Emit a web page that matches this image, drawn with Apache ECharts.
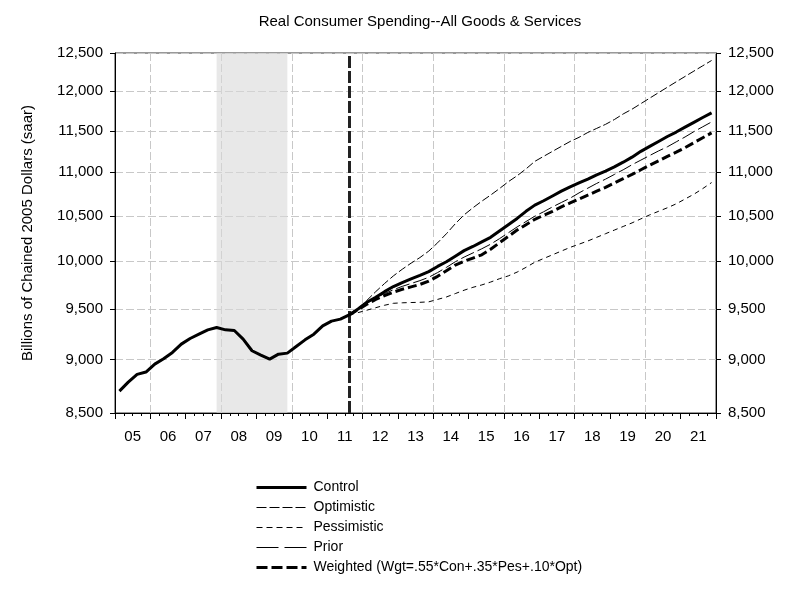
<!DOCTYPE html>
<html>
<head>
<meta charset="utf-8">
<script src="https://cdn.jsdelivr.net/npm/echarts@6/dist/echarts.min.js"></script>
<style>html,body{margin:0;padding:0;background:#fff}#chart{width:790px;height:590px}</style>
</head>
<body>
<div id="chart"></div>
<script>
// ---- data ----
const yearLabels = ['05','06','07','08','09','10','11','12','13','14','15','16','17','18','19','20','21'];
const firstYear = 2005;
const yTicks = [8500, 9000, 9500, 10000, 10500, 11000, 11500, 12000, 12500];
// Actual 2005Q1 .. 2011Q2
const history = [8702, 8786, 8859, 8881, 8957, 9008, 9070, 9151, 9206, 9249, 9292, 9315, 9292, 9285, 9200, 9086, 9044, 9005, 9053, 9063, 9128, 9193, 9249, 9332, 9379, 9399];
// Scenarios 2011Q3 .. 2021Q4
const control = [9442, 9502, 9570, 9622, 9680, 9733, 9775, 9813, 9850, 9890, 9945, 9995, 10055, 10115, 10160, 10210, 10260, 10330, 10400, 10470, 10550, 10620, 10670, 10725, 10780, 10830, 10875, 10920, 10970, 11015, 11065, 11120, 11180, 11250, 11310, 11370, 11430, 11485, 11545, 11605, 11665, 11723];
const optimistic = [9442, 9505, 9590, 9680, 9765, 9845, 9915, 9980, 10040, 10110, 10200, 10300, 10410, 10510, 10590, 10665, 10735, 10810, 10890, 10960, 11040, 11130, 11190, 11250, 11310, 11370, 11420, 11480, 11530, 11580, 11640, 11710, 11770, 11840, 11910, 11980, 12050, 12120, 12190, 12260, 12330, 12400];
const pessimistic = [9442, 9465, 9490, 9515, 9540, 9560, 9565, 9568, 9570, 9575, 9600, 9625, 9660, 9695, 9725, 9750, 9780, 9815, 9845, 9885, 9935, 9990, 10030, 10070, 10110, 10150, 10185, 10220, 10260, 10300, 10340, 10380, 10420, 10465, 10510, 10550, 10590, 10635, 10690, 10745, 10810, 10880];
const prior = [9442, 9500, 9560, 9615, 9660, 9700, 9735, 9765, 9795, 9830, 9880, 9935, 9995, 10045, 10090, 10135, 10185, 10245, 10310, 10375, 10435, 10495, 10545, 10600, 10650, 10700, 10760, 10815, 10870, 10920, 10975, 11030, 11090, 11145, 11200, 11255, 11305, 11365, 11425, 11490, 11550, 11610];
const weighted = [9442, 9495, 9550, 9600, 9640, 9675, 9705, 9730, 9755, 9790, 9840, 9900, 9960, 10000, 10035, 10070, 10130, 10200, 10270, 10340, 10400, 10460, 10505, 10550, 10600, 10645, 10690, 10735, 10780, 10825, 10875, 10925, 10975, 11030, 11085, 11135, 11190, 11240, 11295, 11355, 11415, 11475];
const recession = ['2007Q4', '2009Q4'];
const forecastStart = '2011Q3';
const seriesNames = ['Control', 'Optimistic', 'Pessimistic', 'Prior', 'Weighted (Wgt=.55*Con+.35*Pes+.10*Opt)'];

// ---- build ----
const quarters = [];
yearLabels.forEach((y, k) => { for (let q = 1; q <= 4; q++) quarters.push((firstYear + k) + 'Q' + q); });
const startIdx = quarters.indexOf(forecastStart);
const pad = arr => Array(startIdx).fill(null).concat(arr);

const FONT = "'Liberation Sans', Arial, sans-serif";
const FS = 15;
const gridLine = { show: true, lineStyle: { color: '#c8c8c8', width: 1, type: [8, 3] } };

// styles: [width, chart dash, legend dash]
const styles = {
  'Control': [3, 'solid', 'solid'],
  'Optimistic': [1, [8, 3], [10, 3]],
  'Pessimistic': [1, [5, 4], [6, 4]],
  'Prior': [1, [14, 4], [22, 6]],
  'Weighted (Wgt=.55*Con+.35*Pes+.10*Opt)': [3, [9, 4], [11, 4]]
};

function yAxisCfg(pos, split) {
  const cfg = {
    type: 'log', logBase: 10, min: 8500, max: 12500, position: pos,
    axisLine: { show: true, lineStyle: { color: '#000', width: 1 } },
    axisTick: { show: true, length: 5, customValues: yTicks, lineStyle: { color: '#000' } },
    axisLabel: { customValues: yTicks, margin: 12, color: '#000', fontSize: FS, fontFamily: FONT,
      formatter: v => Math.round(v).toLocaleString('en-US') },
    splitLine: split ? gridLine : { show: false },
    minorTick: { show: false }, minorSplitLine: { show: false }
  };
  if (pos === 'left') {
    Object.assign(cfg, { name: 'Billions of Chained 2005 Dollars (saar)', nameLocation: 'middle', nameRotate: 90, nameGap: 80,
      nameTextStyle: { fontSize: FS, color: '#000', fontFamily: FONT } });
  }
  return cfg;
}

const lineSeries = (name, data) => ({
  name, type: 'line', data, xAxisIndex: 0, yAxisIndex: 0, symbol: 'none', showSymbol: false,
  smooth: false, animation: false,
  lineStyle: { color: '#000', width: styles[name][0], type: styles[name][1] }, itemStyle: { color: '#000' }
});

const chart = echarts.init(document.getElementById('chart'), null, { renderer: 'canvas' });
chart.setOption({
  animation: false,
  backgroundColor: '#fff',
  title: { text: 'Real Consumer Spending--All Goods & Services', left: 415, textAlign: 'center', top: 9,
    textStyle: { fontSize: FS, fontWeight: 'normal', color: '#000', fontFamily: FONT } },
  grid: { left: 115, right: 74, top: 53, bottom: 177, show: true, borderColor: '#333', borderWidth: 1, backgroundColor: 'transparent' },
  legend: {
    orient: 'vertical', left: 255, top: 480.5, padding: 0, itemWidth: 50, itemHeight: 14, itemGap: 6,
    textStyle: { fontSize: FS - 1, color: '#000', fontFamily: FONT, padding: [0, 0, 0, 2] },
    data: seriesNames.map(n => ({ name: n, icon: 'line',
      itemStyle: { color: '#000', borderColor: '#000', borderWidth: styles[n][0], borderType: styles[n][2] } }))
  },
  xAxis: [
    { type: 'category', data: quarters, boundaryGap: true, position: 'bottom',
      axisLine: { show: true, lineStyle: { color: '#000' } },
      axisTick: { show: true, interval: 0, length: 3, lineStyle: { color: '#000' } },
      axisLabel: { show: false }, splitLine: { show: false } },
    { type: 'category', data: yearLabels, boundaryGap: true, position: 'bottom',
      axisLine: { show: false },
      axisTick: { show: true, interval: 0, length: 6, lineStyle: { color: '#000' } },
      axisLabel: { interval: 0, margin: 16, color: '#000', fontSize: FS, fontFamily: FONT },
      splitLine: { show: true, interval: (i) => i % 2 === 1, lineStyle: gridLine.lineStyle } }
  ],
  yAxis: [yAxisCfg('left', true), yAxisCfg('right', false)],
  series: [
    Object.assign(lineSeries('Control', history.concat(control)), {
      z: 5,
      markArea: { silent: true, itemStyle: { color: '#d9d9d9', opacity: 0.6 },
        data: [[{ xAxis: recession[0] }, { xAxis: recession[1] }]] },
      markLine: { silent: true, symbol: 'none', label: { show: false },
        lineStyle: { color: '#222', width: 3, type: [12, 3] },
        data: [{ xAxis: forecastStart }] }
    }),
    lineSeries('Optimistic', pad(optimistic)),
    lineSeries('Pessimistic', pad(pessimistic)),
    lineSeries('Prior', pad(prior)),
    Object.assign(lineSeries(seriesNames[4], pad(weighted)), { z: 4 })
  ]
});
</script>
</body>
</html>
